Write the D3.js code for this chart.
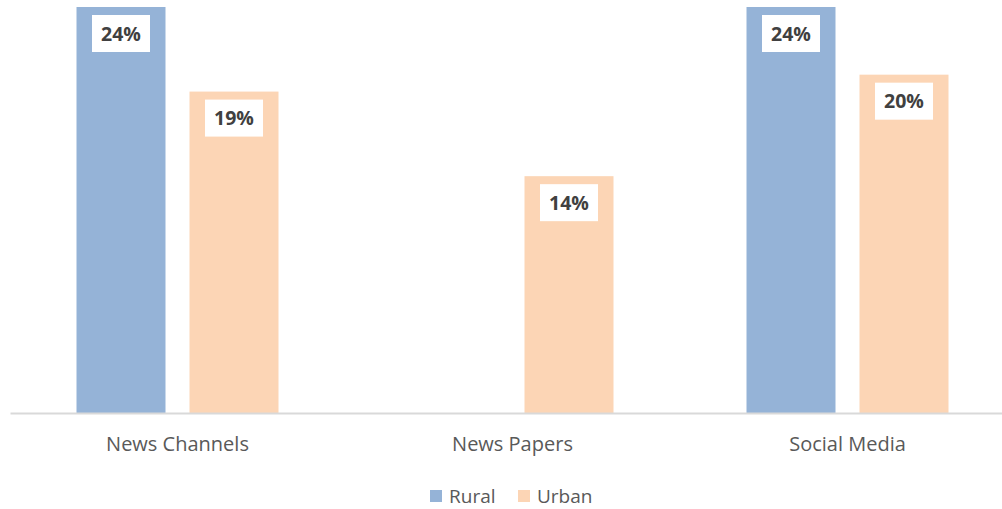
<!DOCTYPE html>
<html>
<head>
<meta charset="utf-8">
<script src="https://cdn.jsdelivr.net/npm/d3@7"></script>
<style>
  html, body { margin: 0; padding: 0; background: #fff; }
  svg { display: block; }
</style>
</head>
<body>
<svg id="chart" width="1002" height="509"></svg>
<script>
// Share of respondents by news source, rural vs urban
const categories = ["News Channels", "News Papers", "Social Media"];
const seriesNames = ["Rural", "Urban"];
const rural = [24, null, 24];
const urban = [19, 14, 20];
const seriesColors = ["#95b3d7", "#fcd5b5"];

const svg = d3.select("#chart");
const W = 1002, H = 509;
const baseY = 413;
const fontFamily = "'Open Sans', 'Liberation Sans', sans-serif";

const x0 = d3.scaleBand()
  .domain(categories)
  .range([10, 1015]);

// inner scale: two bars with a small gap, centred in each category band
const clusterW = 202;
const clusterStart = (x0.bandwidth() - clusterW) / 2;
const x1 = d3.scaleBand()
  .domain(seriesNames)
  .range([clusterStart, clusterStart + clusterW])
  .paddingInner(24 / 113)
  .paddingOuter(0);

const y = d3.scaleLinear()
  .domain([0, 24])
  .range([baseY, 7]);

const rows = categories.map((c, i) => ({ cat: c, values: [rural[i], urban[i]] }));

const groups = svg.selectAll("g.cat")
  .data(rows)
  .join("g")
  .attr("class", "cat")
  .attr("transform", d => `translate(${x0(d.cat)},0)`);

const bars = groups.selectAll("g.bar")
  .data(d => d.values.map((v, j) => ({ name: seriesNames[j], v, color: seriesColors[j] }))
    .filter(e => e.v != null))
  .join("g")
  .attr("class", "bar");

bars.append("rect")
  .attr("x", d => x1(d.name))
  .attr("y", d => y(d.v))
  .attr("width", x1.bandwidth())
  .attr("height", d => baseY - y(d.v))
  .attr("fill", d => d.color);

// value labels in white boxes just inside the bar end
const boxW = 58, boxH = 37;
bars.append("rect")
  .attr("x", d => x1(d.name) + x1.bandwidth() / 2 - boxW / 2)
  .attr("y", d => y(d.v) + 8)
  .attr("width", boxW)
  .attr("height", boxH)
  .attr("fill", "#ffffff");

bars.append("text")
  .attr("x", d => x1(d.name) + x1.bandwidth() / 2)
  .attr("y", d => y(d.v) + 8 + boxH / 2)
  .attr("dy", "0.36em")
  .attr("text-anchor", "middle")
  .attr("font-family", fontFamily)
  .attr("font-weight", "bold")
  .attr("font-size", "19.5px")
  .attr("fill", "#404040")
  .text(d => d.v + "%");

// category axis
const xAxis = svg.append("g")
  .attr("transform", `translate(0,${baseY})`)
  .call(d3.axisBottom(x0).tickSize(0).tickPadding(24));
xAxis.select(".domain")
  .attr("stroke", "#d9d9d9")
  .attr("stroke-width", 2);
xAxis.selectAll("text")
  .attr("font-family", fontFamily)
  .attr("font-size", "20px")
  .attr("fill", "#595959");

// legend
const legend = svg.append("g").attr("transform", "translate(430,496)");
const legendItems = legend.selectAll("g")
  .data(seriesNames)
  .join("g")
  .attr("transform", (d, i) => `translate(${i * 88},0)`);
legendItems.append("rect")
  .attr("x", 0).attr("y", -6)
  .attr("width", 12).attr("height", 12)
  .attr("fill", (d, i) => seriesColors[i]);
legendItems.append("text")
  .attr("x", 19)
  .attr("y", 0)
  .attr("dy", "0.35em")
  .attr("font-family", fontFamily)
  .attr("font-size", "19px")
  .attr("fill", "#595959")
  .text(d => d);
</script>
</body>
</html>
